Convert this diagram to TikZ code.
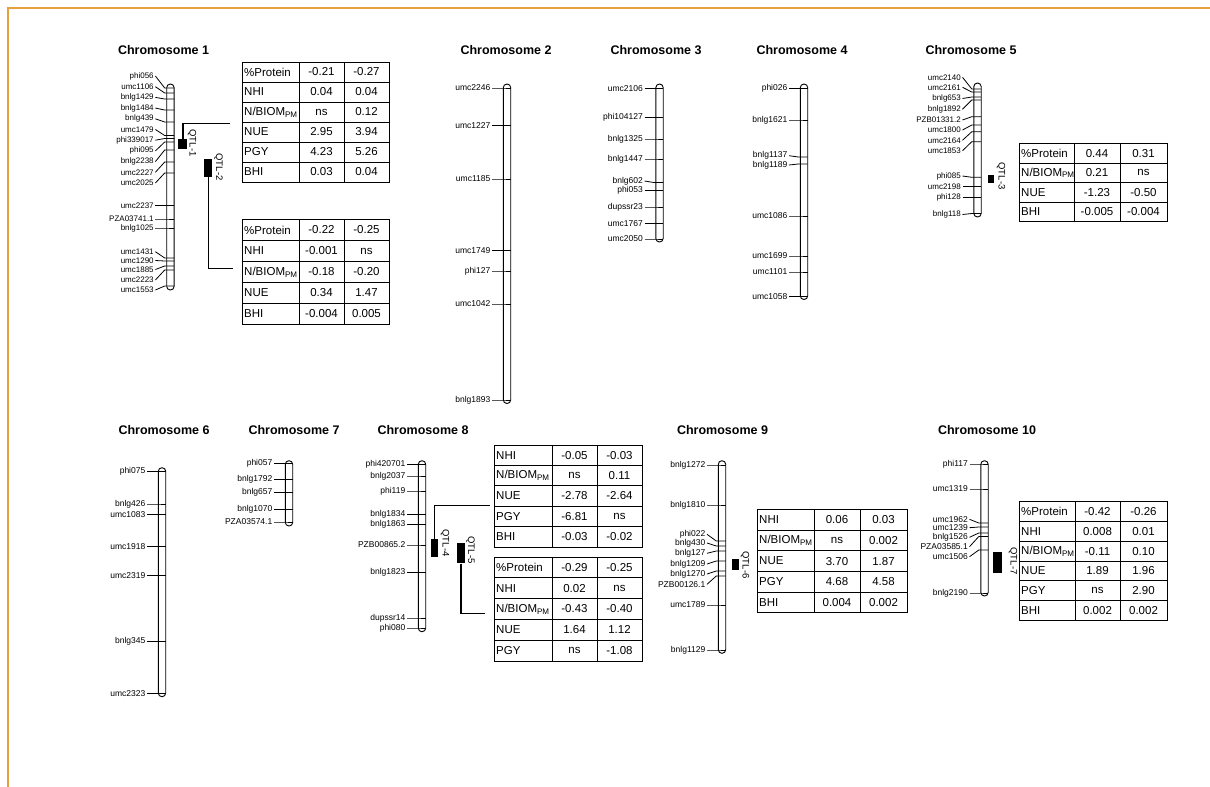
\documentclass[tikz,border=0pt]{standalone}
\usepackage{fontspec}
\setmainfont{Liberation Sans}
\definecolor{frameorange}{RGB}{230,160,60}
\newcommand{\NBpm}{N/BIOM\textsubscript{PM}}
\tikzset{
 chromline/.style={draw=black, line width=0.9pt, rounded corners=3.6pt},
 tickline/.style={draw=black, line width=0.8pt},
 mlabel/.style={font=\fontsize{8.5}{9}\selectfont, inner sep=0pt},
 mlabelsm/.style={font=\fontsize{8}{8.5}\selectfont, inner sep=0pt},
 tabline/.style={draw=black, line width=1pt},
 tabtxt/.style={font=\fontsize{11.5}{12}\selectfont, inner sep=0pt},
 ctitle/.style={font=\fontsize{12.5}{14}\selectfont\bfseries, inner sep=0pt},
 qbox/.style={fill=black, draw=none, inner sep=0pt},
 qlab/.style={font=\fontsize{9.5}{10}\selectfont, inner sep=0pt, rotate=-90},
 conn/.style={draw=black, line width=1.4pt},
 framec/.style={draw=frameorange, line width=1.3pt}
}
% chromosome: #1 name, #2 x centre, #3 top, #4 bottom, #5 label style, #6 list label/labely/ticky
\newcommand{\chrom}[6]{%
 \draw[chromline] (#2-3.7,#3) rectangle (#2+3.7,#4);
 \foreach \lab/\ly/\ty [count=\i] in {#6} {
   \node[#5, anchor=east] (#1m\i) at (#2-16.5,\ly) {\lab};
   \draw[tickline] (#2-15,\ly) -- (#2-5.7,\ty) -- (#2+3.7,\ty);
 }}
% table: #1 name, #2-#5 column borders, #6 top, #7 row height, #8 rows
\newcommand{\qtab}[8]{%
 \foreach \lab/\va/\vb [count=\r from 0] in {#8} {
   \pgfmathsetmacro\yt{#6+\r*#7}
   \pgfmathsetmacro\yb{#6+(\r+1)*#7}
   \pgfmathsetmacro\ym{#6+(\r+0.5)*#7}
   \draw[tabline] (#2,\yt) rectangle (#5,\yb);
   \draw[tabline] (#3,\yt) -- (#3,\yb) (#4,\yt) -- (#4,\yb);
   \node[tabtxt,anchor=west] (#1l\r) at (#2+2,\ym) {\lab};
   \node[tabtxt] (#1a\r) at ({(#3+#4)/2},\ym) {\va};
   \node[tabtxt] (#1b\r) at ({(#4+#5)/2},\ym) {\vb};
 }}
\begin{document}
\begin{tikzpicture}[x=1pt,y=-1pt]
\useasboundingbox (0,0) rectangle (1210,787);
\draw[framec] (8,787) -- (8,8) -- (1210,8);

% titles
\node[ctitle] (t1) at (163.5,50) {Chromosome 1};
\node[ctitle] (t2) at (506,50) {Chromosome 2};
\node[ctitle] (t3) at (656,50) {Chromosome 3};
\node[ctitle] (t4) at (802,50) {Chromosome 4};
\node[ctitle] (t5) at (971,50) {Chromosome 5};
\node[ctitle] (t6) at (164,430) {Chromosome 6};
\node[ctitle] (t7) at (294,430) {Chromosome 7};
\node[ctitle] (t8) at (423,430) {Chromosome 8};
\node[ctitle] (t9) at (722.5,430) {Chromosome 9};
\node[ctitle] (t10) at (987,430) {Chromosome 10};

% chromosomes
\chrom{A}{170.4}{84}{290}{mlabelsm}{phi056/76/88, umc1106/86.7/93, bnlg1429/97.4/99, bnlg1484/108.1/110, bnlg439/118.8/122, umc1479/129.5/135.5, phi339017/140.2/138.5, phi095/150.9/142, bnlg2238/161.6/150, umc2227/172.3/162, umc2025/183/173, umc2237/205.7/205.7, PZA03741.1/219/219, bnlg1025/228/228, umc1431/251.7/258, umc1290/260.5/261, umc1885/269.5/266, umc2223/280/270, umc1553/290/286}
\chrom{B}{507}{84}{403.5}{mlabel}{umc2246/88/88, umc1227/125.7/125.7, umc1185/179/179, umc1749/250.7/250.7, phi127/271/271, umc1042/304/304, bnlg1893/400/400}
\chrom{C}{659.5}{84}{242}{mlabel}{umc2106/88.3/88.3, phi104127/117.7/117.7, bnlg1325/139/139, bnlg1447/159/159, bnlg602/181/182.5, phi053/190.7/190.7, dupssr23/207/207, umc1767/223.7/223.7, umc2050/239/239}
\chrom{D}{804}{84}{299.5}{mlabel}{phi026/88.3/88.3, bnlg1621/120/120, bnlg1137/155.7/157, bnlg1189/165/164, umc1086/216/216, umc1699/256/256, umc1101/272/272, umc1058/296.5/296.5}
\chrom{E}{977.5}{83}{217}{mlabelsm}{umc2140/77.3/89, umc2161/87.3/92, bnlg653/98.5/97, bnlg1892/109.3/100, PZB01331.2/120/116.7, umc1800/130/125, umc2164/140.3/131.7, umc1853/150.7/141.7, phi085/176/177.3, umc2198/186.7/186.7, phi128/197.3/197.3, bnlg118/214.5/213.5}
\chrom{F}{162}{467.7}{696.7}{mlabel}{phi075/471.7/471.7, bnlg426/504/504, umc1083/514.3/514.3, umc1918/546.7/546.7, umc2319/575.7/575.7, bnlg345/641.7/641.7, umc2323/693.5/693.5}
\chrom{G}{289}{460.7}{526}{mlabel}{phi057/463.5/463.5, bnlg1792/479.3/479.3, bnlg657/492.7/492.7, bnlg1070/509.3/509.3, PZA03574.1/522/522}
\chrom{H}{422}{460.7}{631.7}{mlabel}{phi420701/464.5/464.5, bnlg2037/476/476, phi119/491/491, bnlg1834/514.5/514.5, bnlg1863/524.5/524.5, PZB00865.2/545/545, bnlg1823/572.7/572.7, dupssr14/618/618, phi080/628/628}
\chrom{I}{722}{460.7}{653.3}{mlabel}{bnlg1272/465/465, bnlg1810/505/505, phi022/534.3/541, bnlg430/543/546, bnlg127/553.3/551, bnlg1209/564/561, bnlg1270/574/571, PZB00126.1/584.3/576, umc1789/605/605, bnlg1129/650/650}
\chrom{J}{984.5}{460.7}{596}{mlabel}{phi117/464/464, umc1319/489/489, umc1962/519.3/523, umc1239/527.7/527, bnlg1526/537.3/533, PZA03585.1/546.7/536.5, umc1506/556.7/550, bnlg2190/593/593}

% QTL boxes and labels
\node[qbox, minimum width=9, minimum height=10] (q1) at (182.8,144) {};
\node[qlab] (q1l) at (192,143) {QTL-1};
\node[qbox, minimum width=8, minimum height=17.7] (q2) at (208.3,168) {};
\node[qlab] (q2l) at (218.5,167) {QTL-2};
\node[qbox, minimum width=6.5, minimum height=8.3] (q3) at (991,179) {};
\node[qlab] (q3l) at (1001,176) {QTL-3};
\node[qbox, minimum width=7.3, minimum height=17.7] (q4) at (434.7,548) {};
\node[qlab] (q4l) at (445,543) {QTL-4};
\node[qbox, minimum width=8.3, minimum height=20.6] (q5) at (460.8,553) {};
\node[qlab] (q5l) at (470.5,550) {QTL-5};
\node[qbox, minimum width=7.3, minimum height=10.7] (q6) at (735.3,564.7) {};
\node[qlab] (q6l) at (745,565) {QTL-6};
\node[qbox, minimum width=8.4, minimum height=21] (q7) at (997.5,562.2) {};
\node[qlab] (q7l) at (1013,561) {QTL-7};

% connectors
\coordinate (c1) at (230,123.3);
\draw[conn] (q1.north) |- (c1);
\coordinate (c2) at (233,268.3);
\draw[conn] (q2.south) |- (c2);
\coordinate (c4) at (490,505.7);
\draw[conn] (q4.north) |- (c4);
\coordinate (c5) at (485,613.3);
\draw[conn] (q5.south) |- (c5);

% tables
\qtab{Ta}{242}{299}{344}{389}{62}{20}{\%Protein/-0.21/-0.27, NHI/0.04/0.04, \NBpm/ns/0.12, NUE/2.95/3.94, PGY/4.23/5.26, BHI/0.03/0.04}
\qtab{Tb}{242}{299}{344}{389}{219.5}{21}{\%Protein/-0.22/-0.25, NHI/-0.001/ns, \NBpm/-0.18/-0.20, NUE/0.34/1.47, BHI/-0.004/0.005}
\qtab{Tc}{1019}{1074}{1120}{1167}{143.5}{19.5}{\%Protein/0.44/0.31, \NBpm/0.21/ns, NUE/-1.23/-0.50, BHI/-0.005/-0.004}
\qtab{Td}{494}{552}{597}{642}{445}{20.4}{NHI/-0.05/-0.03, \NBpm/ns/0.11, NUE/-2.78/-2.64, PGY/-6.81/ns, BHI/-0.03/-0.02}
\qtab{Te}{494}{552}{597}{642}{557}{20.8}{\%Protein/-0.29/-0.25, NHI/0.02/ns, \NBpm/-0.43/-0.40, NUE/1.64/1.12, PGY/ns/-1.08}
\qtab{Tf}{757}{814}{860}{907}{509.3}{20.7}{NHI/0.06/0.03, \NBpm/ns/0.002, NUE/3.70/1.87, PGY/4.68/4.58, BHI/0.004/0.002}
\qtab{Tg}{1019}{1075}{1120}{1167}{501.7}{19.8}{\%Protein/-0.42/-0.26, NHI/0.008/0.01, \NBpm/-0.11/0.10, NUE/1.89/1.96, PGY/ns/2.90, BHI/0.002/0.002}
\end{tikzpicture}
\end{document}
